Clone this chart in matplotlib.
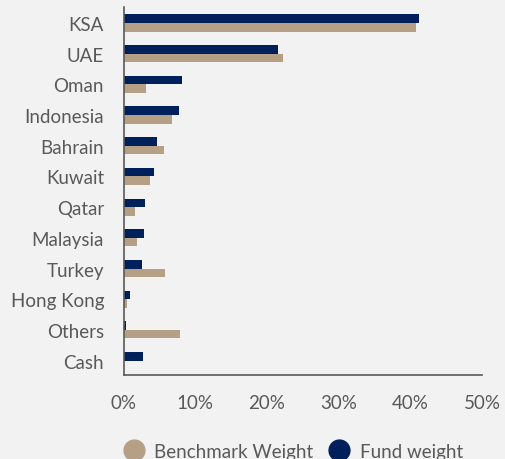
import numpy as np
import matplotlib.pyplot as plt
from matplotlib.lines import Line2D

countries = ['KSA', 'UAE', 'Oman', 'Indonesia', 'Bahrain', 'Kuwait', 'Qatar',
             'Malaysia', 'Turkey', 'Hong Kong', 'Others', 'Cash']
fund = [41.2, 21.6, 8.2, 7.8, 4.6, 4.3, 3.0, 2.8, 2.6, 0.9, 0.3, 2.7]
bench = [40.8, 22.2, 3.2, 6.8, 5.7, 3.7, 1.6, 1.9, 5.8, 0.5, 7.9, 0.0]
xticks = [0, 10, 20, 30, 40, 50]

navy = '#00205b'
tan = '#b5a086'
txt = '#595959'
bg = '#f2f2f2'

plt.rcParams['font.family'] = ['Lato', 'DejaVu Sans']

fig = plt.figure(figsize=(5.05, 4.6), dpi=100, facecolor=bg)
ax = fig.add_axes([0.2446, 0.1826, 0.71, 0.8])
ax.set_facecolor(bg)

y = np.arange(len(countries))
h = 0.28
ax.barh(y - h / 2, fund, height=h, color=navy, label='Fund weight')
ax.barh(y + h / 2, bench, height=h, color=tan, label='Benchmark Weight')

ax.set_ylim(11.47, -0.52)
ax.set_xlim(0, 50)
ax.set_yticks(y)
ax.set_yticklabels(countries)
ax.set_xticks(xticks)
ax.set_xticklabels([f'{v}%' for v in xticks])
ax.tick_params(axis='both', length=0, labelsize=13.5, colors=txt)
ax.tick_params(axis='x', pad=14)
ax.tick_params(axis='y', pad=14)
for s in ['top', 'right']:
    ax.spines[s].set_visible(False)
for s in ['left', 'bottom']:
    ax.spines[s].set_color('#595959')
    ax.spines[s].set_linewidth(1.2)

handles = [Line2D([], [], marker='o', ls='', markersize=15, color=tan),
           Line2D([], [], marker='o', ls='', markersize=15, color=navy)]
fig.legend(handles, ['Benchmark Weight', 'Fund weight'], loc='center',
           bbox_to_anchor=(0.572, 0.017), ncol=2, frameon=False,
           fontsize=13.5, labelcolor=txt, handletextpad=0.1, columnspacing=0.35)

fig.savefig('out.png', dpi=100, facecolor=bg)
